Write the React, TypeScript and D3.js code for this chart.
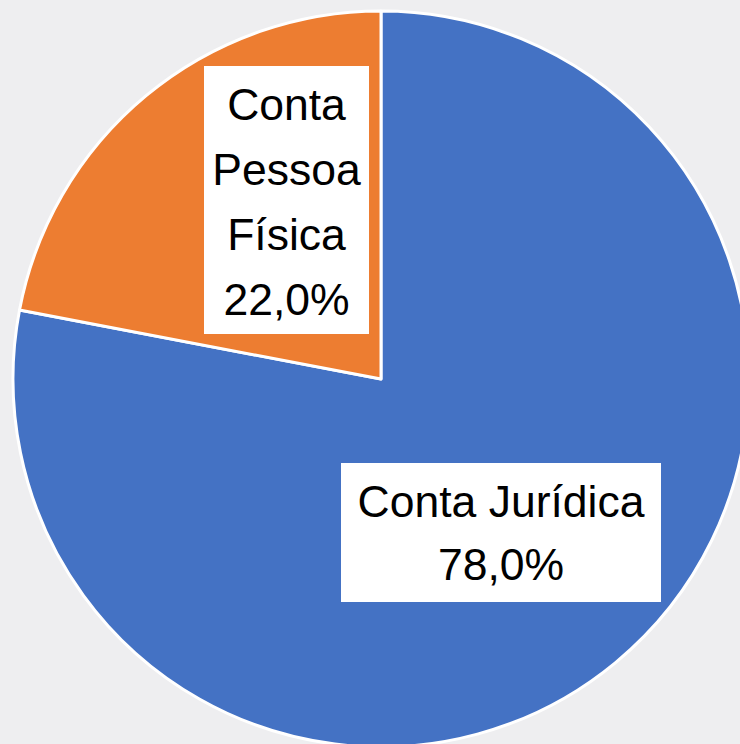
import React from "react";
import * as d3 from "d3";

const categories = ["Conta Jurídica", "Conta Pessoa Física"];
const values = [78.0, 22.0];
const labelLines = [["Conta Jurídica", "78,0%"], ["Conta", "Pessoa", "Física", "22,0%"]];
const colors = ["#4472C4", "#ED7D31"];

const W = 740, H = 744;
const cx = 381, cy = 379, R = 368;
// label box layout (center x, top y, width, height, line height, first baseline offset)
const boxes = [
  { cx: 501, y: 463, w: 320, h: 139, lh: 63, first: 54 },
  { cx: 286.5, y: 66, w: 165, h: 268, lh: 65, first: 54 },
];

export default function App() {
  const pie = d3.pie<number>().sort(null).value((d) => d)(values);
  const arc = d3.arc<d3.PieArcDatum<number>>().innerRadius(0).outerRadius(R);
  return (
    <svg width={W} height={H} style={{ position: "absolute", left: 0, top: 0, background: "#EEEEF0" }}>
      <rect width={W} height={H} fill="#EEEEF0" />
      <g transform={`translate(${cx},${cy})`}>
        {pie.map((p, i) => (
          <path key={categories[i]} d={arc(p) || ""} fill={colors[i]} stroke="#fff" strokeWidth={3} strokeLinejoin="round" />
        ))}
      </g>
      {boxes.map((b, i) => (
        <g key={i}>
          <rect x={b.cx - b.w / 2} y={b.y} width={b.w} height={b.h} fill="#fff" />
          <text textAnchor="middle" fontFamily="Liberation Sans, Arial, sans-serif" fontSize={44.5} fill="#000">
            {labelLines[i].map((t, j) => (
              <tspan key={j} x={b.cx} y={b.y + b.first + j * b.lh}>{t}</tspan>
            ))}
          </text>
        </g>
      ))}
    </svg>
  );
}
